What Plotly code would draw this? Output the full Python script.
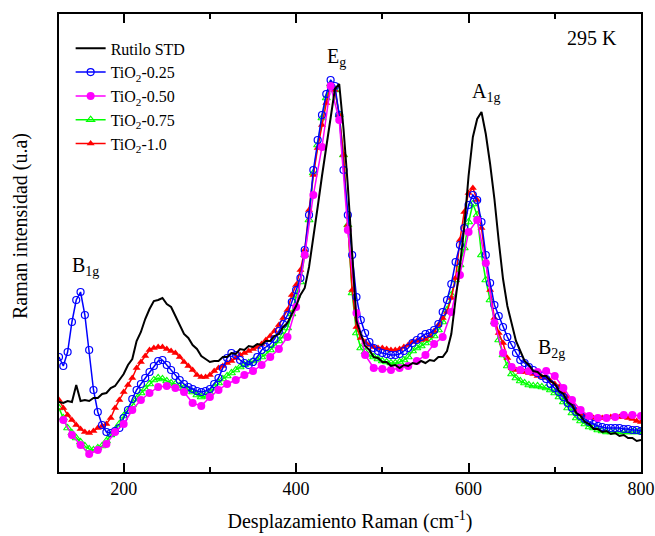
import numpy as np
import plotly.graph_objects as go

# Raman shift grid (cm^-1) for the densely sampled spectra
shift = np.arange(125, 801, 5)
# coarser grid used by the TiO2-0.50 spectrum
shift_050 = np.arange(130, 801, 10)

# Intensities (arbitrary units)
rutilo_std = [70, 69, 71, 70, 87, 71, 72, 71, 74, 74, 78, 79, 84, 86, 92, 98, 107, 113, 131, 140,
              153, 163, 171, 172, 174, 168, 165, 156, 146, 138, 134, 127, 123, 116, 113, 110, 111, 111, 115, 115,
              119, 118, 123, 122, 126, 125, 128, 127, 131, 131, 136, 138, 145, 149, 158, 166, 177, 184, 205, 233,
              265, 296, 326, 356, 383, 388, 343, 286, 213, 151, 138, 126, 122, 115, 114, 110, 110, 106, 107, 104,
              107, 106, 109, 108, 111, 109, 112, 111, 115, 115, 121, 138, 173, 206, 245, 296, 335, 353, 360, 338,
              308, 273, 231, 193, 166, 148, 131, 121, 111, 107, 101, 100, 96, 96, 91, 88, 81, 78, 70, 67,
              59, 56, 50, 48, 43, 43, 40, 41, 38, 39, 36, 37, 34, 34, 31, 32]

tio2_025 = [115, 106, 120, 150, 172, 180, 157, 122, 82, 60, 47, 40, 39, 41, 44, 54, 62, 73, 82, 88,
            94, 100, 106, 111, 112, 107, 102, 96, 92, 88, 85, 83, 81, 80, 81, 83, 88, 94, 104, 114,
            119, 117, 112, 109, 107, 110, 115, 122, 125, 128, 133, 141, 148, 157, 170, 182, 194, 222, 257, 302,
            332, 357, 378, 392, 386, 357, 302, 257, 217, 175, 152, 139, 130, 124, 121, 119, 118, 117, 117, 118,
            121, 124, 129, 132, 135, 138, 139, 142, 148, 160, 172, 188, 210, 227, 244, 267, 277, 272, 250, 217,
            189, 167, 156, 145, 135, 127, 119, 112, 109, 105, 102, 99, 96, 93, 88, 84, 80, 75, 69, 64,
            60, 56, 53, 50, 48, 46, 45, 44, 44, 44, 44, 43, 43, 42, 42, 41]

tio2_050 = [52, 37, 27, 18, 22, 28, 40, 48, 62, 72, 79, 85, 86, 84, 80, 69, 66, 75, 82, 88,
            92, 97, 101, 107, 115, 123, 135, 165, 217, 277, 325, 386, 352, 242, 159, 117, 104, 103, 102, 104,
            106, 111, 117, 128, 135, 160, 197, 240, 252, 209, 149, 119, 105, 102, 101, 100, 101, 96, 84, 72,
            62, 56, 54, 54, 55, 57, 57, 56]

tio2_075 = [64, 54, 44, 39, 34, 30, 26, 23, 22, 24, 26, 31, 37, 42, 48, 56, 61, 67, 73, 79,
            83, 88, 92, 94, 93, 91, 89, 88, 86, 84, 82, 80, 77, 75, 76, 79, 84, 89, 93, 96,
            99, 102, 105, 107, 109, 111, 112, 115, 118, 122, 126, 131, 136, 144, 158, 176, 190, 217, 252, 299,
            327, 354, 374, 388, 382, 357, 317, 247, 179, 139, 124, 120, 117, 115, 113, 111, 110, 109, 109, 110,
            112, 115, 121, 124, 126, 129, 132, 136, 142, 150, 162, 177, 192, 207, 224, 250, 268, 257, 217, 192,
            172, 150, 132, 117, 106, 98, 94, 91, 89, 87, 86, 86, 85, 84, 82, 79, 75, 70, 64, 59,
            54, 51, 48, 45, 44, 42, 41, 40, 40, 40, 40, 40, 40, 40, 40, 40]

tio2_100 = [72, 64, 57, 52, 47, 43, 40, 39, 41, 44, 46, 48, 54, 64, 72, 80, 87, 94, 104, 110,
            116, 122, 124, 125, 125, 123, 121, 119, 115, 110, 106, 102, 97, 95, 95, 97, 101, 104, 106, 109,
            111, 114, 117, 119, 121, 123, 125, 128, 132, 136, 141, 147, 154, 162, 177, 187, 202, 222, 262, 297,
            324, 347, 369, 386, 382, 357, 317, 247, 182, 145, 134, 130, 127, 125, 124, 124, 123, 122, 122, 123,
            125, 127, 130, 131, 132, 133, 136, 141, 147, 154, 160, 174, 194, 232, 260, 279, 284, 272, 244, 210,
            182, 154, 139, 129, 114, 104, 102, 100, 100, 99, 98, 96, 95, 94, 91, 88, 85, 81, 75, 68,
            62, 58, 56, 55, 54, 54, 54, 54, 55, 55, 55, 55, 54, 53, 51, 50]

SERIF = "'Liberation Serif', 'Times New Roman', serif"

fig = go.Figure()

# drawing order (back to front): 0.75, 1.0, 0.25, 0.50, STD
fig.add_trace(go.Scatter(
    x=shift, y=tio2_075, name="TiO<sub>2</sub>-0.75", legendrank=4,
    mode="lines+markers", line=dict(color="#00FF00", width=1.5),
    marker=dict(symbol="triangle-up-open", size=7, color="#00FF00", line=dict(width=1.2)),
))
fig.add_trace(go.Scatter(
    x=shift, y=tio2_100, name="TiO<sub>2</sub>-1.0", legendrank=5,
    mode="lines+markers", line=dict(color="#FF0000", width=1.5),
    marker=dict(symbol="triangle-up", size=7, color="#FF0000"),
))
fig.add_trace(go.Scatter(
    x=shift, y=tio2_025, name="TiO<sub>2</sub>-0.25", legendrank=2,
    mode="lines+markers", line=dict(color="#0000FF", width=1.5),
    marker=dict(symbol="circle-open", size=7, color="#0000FF", line=dict(width=1.2)),
))
fig.add_trace(go.Scatter(
    x=shift_050, y=tio2_050, name="TiO<sub>2</sub>-0.50", legendrank=3,
    mode="lines+markers", line=dict(color="#FF00FF", width=1.5),
    marker=dict(symbol="circle", size=8, color="#FF00FF"),
))
fig.add_trace(go.Scatter(
    x=shift, y=rutilo_std, name="Rutilo STD", legendrank=1,
    mode="lines", line=dict(color="black", width=2),
))

ann_font = dict(family=SERIF, size=20, color="black")
annotations = [
    dict(text="E<sub>g</sub>", x=0.476, y=0.904),
    dict(text="A<sub>1g</sub>", x=0.734, y=0.828),
    dict(text="B<sub>1g</sub>", x=0.046, y=0.448),
    dict(text="B<sub>2g</sub>", x=0.847, y=0.269),
    dict(text="295 K", x=0.916, y=0.948),
]
for a in annotations:
    fig.add_annotation(xref="paper", yref="paper", showarrow=False, font=ann_font,
                       xanchor="center", yanchor="middle", **a)

fig.add_annotation(
    text="Raman intensidad (u.a)", xref="paper", yref="paper", x=-0.067, y=0.537,
    xanchor="center", yanchor="middle", textangle=-90, showarrow=False, font=ann_font,
)

fig.update_layout(
    width=655, height=536,
    margin=dict(l=59, r=14, t=14, b=64, autoexpand=False),
    paper_bgcolor="white", plot_bgcolor="white",
    font=dict(family=SERIF, color="black"),
    showlegend=True,
    legend=dict(
        x=0.02, y=0.962, xanchor="left", yanchor="top",
        bgcolor="rgba(0,0,0,0)", font=dict(family=SERIF, size=16),
        itemwidth=30, tracegroupgap=0,
    ),
    xaxis=dict(
        range=[125, 800], tickvals=[200, 400, 600, 800], automargin=False,
        ticks="inside", ticklen=9, tickwidth=1.5, tickcolor="black",
        showline=True, linecolor="black", linewidth=1.5, mirror="ticks",
        showgrid=False, zeroline=False,
        tickfont=dict(family=SERIF, size=18),
        minor=dict(tickvals=[300, 500, 700], ticks="inside", ticklen=5, tickwidth=1.5, tickcolor="black"),
        title=dict(text="Desplazamiento Raman (cm<sup>-1</sup>)", font=dict(family=SERIF, size=20), standoff=16),
    ),
    yaxis=dict(
        range=[0, 458], showticklabels=False, ticks="", automargin=False,
        showline=True, linecolor="black", linewidth=1.5, mirror=True,
        showgrid=False, zeroline=False,
    ),
)

fig.write_html("out.html")
